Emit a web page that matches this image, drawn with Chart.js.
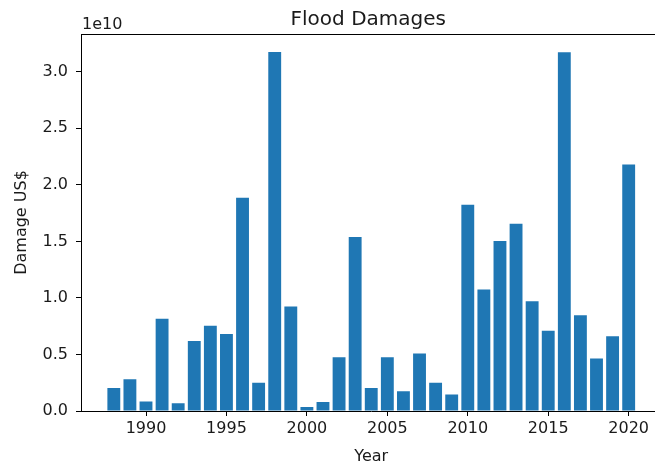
<!DOCTYPE html>
<html>
<head>
<meta charset="utf-8">
<title>Flood Damages</title>
<script src="https://cdn.jsdelivr.net/npm/chart.js@4/dist/chart.umd.min.js"></script>
<style>
  html, body { margin: 0; padding: 0; background: #fff; overflow: hidden; }
  #wrap { width: 655px; height: 468px; overflow: hidden; }
  canvas { display: block; }
</style>
</head>
<body>
<div id="wrap"><canvas id="chart" width="664" height="468"></canvas></div>
<script>
// Annual flood damages (US$)
const years = [
  1988, 1989, 1990, 1991, 1992, 1993, 1994, 1995, 1996, 1997, 1998,
  1999, 2000, 2001, 2002, 2003, 2004, 2005, 2006, 2007, 2008, 2009,
  2010, 2011, 2012, 2013, 2014, 2015, 2016, 2017, 2018, 2019, 2020
];
const damages = [
  2.03e9, 2.80e9, 0.83e9, 8.15e9, 0.68e9, 6.18e9, 7.54e9, 6.80e9, 18.86e9, 2.50e9, 31.75e9,
  9.24e9, 0.35e9, 0.80e9, 4.76e9, 15.39e9, 2.03e9, 4.76e9, 1.74e9, 5.09e9, 2.50e9, 1.45e9,
  18.24e9, 10.74e9, 15.03e9, 16.56e9, 9.71e9, 7.09e9, 31.72e9, 8.47e9, 4.65e9, 6.62e9, 21.79e9
];
const xTicks = [1990, 1995, 2000, 2005, 2010, 2015, 2020];
const yTicks = [0, 0.5e10, 1.0e10, 1.5e10, 2.0e10, 2.5e10, 3.0e10];
const exponentLabel = '1e10';
const chartTitle = 'Flood Damages';
const xLabel = 'Year';
const yLabel = 'Damage US$';

const FONT = 'DejaVu Sans';
const TEXT = '#1a1a1a';
const BAR_WIDTH = 0.8;

// Axis limits with a 5% margin around the data, bars centred on each year
const xLo = Math.min(...years) - BAR_WIDTH / 2;
const xHi = Math.max(...years) + BAR_WIDTH / 2;
const xPad = (xHi - xLo) * 0.05;
const yMax = Math.max(...damages) * 1.05;

// Title, exponent label and the top frame line
// (the right-hand frame edge falls outside the visible page)
const framePlugin = {
  id: 'frame',
  afterDraw(chart) {
    const { ctx, chartArea: a } = chart;
    ctx.save();
    ctx.strokeStyle = '#000';
    ctx.lineWidth = 1;
    ctx.beginPath();
    ctx.moveTo(Math.round(a.left) + 0.5, Math.round(a.top) + 0.5);
    ctx.lineTo(Math.round(a.right) + 0.5, Math.round(a.top) + 0.5);
    ctx.stroke();

    ctx.fillStyle = TEXT;
    ctx.font = '20px "' + FONT + '"';
    ctx.textAlign = 'center';
    ctx.textBaseline = 'alphabetic';
    ctx.fillText(chartTitle, (a.left + a.right) / 2 - 3, a.top - 9);

    ctx.font = '16px "' + FONT + '"';
    ctx.textAlign = 'left';
    ctx.fillText(exponentLabel, a.left + 1, a.top - 5);
    ctx.restore();
  }
};

const tickMarks = { offset: false, drawOnChartArea: false, drawTicks: true, tickLength: 5, tickColor: '#000', tickWidth: 1 };

new Chart(document.getElementById('chart'), {
  type: 'bar',
  data: {
    datasets: [{
      data: years.map((yr, i) => ({ x: yr, y: damages[i] })),
      backgroundColor: '#1f77b4',
      borderWidth: 0,
      barPercentage: BAR_WIDTH,
      categoryPercentage: 1.0
    }]
  },
  options: {
    responsive: false,
    animation: false,
    devicePixelRatio: 1,
    layout: { padding: { top: 34, right: 2.5, bottom: 0, left: 0 } },
    plugins: {
      legend: { display: false },
      tooltip: { enabled: false },
      title: { display: false }
    },
    scales: {
      x: {
        type: 'linear',
        offset: false,
        min: xLo - xPad,
        max: xHi + xPad,
        afterBuildTicks(scale) { scale.ticks = xTicks.map(v => ({ value: v })); },
        afterFit(scale) { scale.height = 57; },
        grid: tickMarks,
        border: { display: true, color: '#000', width: 1 },
        ticks: {
          maxRotation: 0,
          autoSkip: false,
          padding: 3,
          color: TEXT,
          font: { family: FONT, size: 16 },
          callback: (v) => String(v)
        },
        title: {
          display: true,
          text: xLabel,
          color: TEXT,
          font: { family: FONT, size: 16 },
          padding: { top: 0, bottom: 2 }
        }
      },
      y: {
        min: 0,
        max: yMax,
        afterBuildTicks(scale) { scale.ticks = yTicks.map(v => ({ value: v })); },
        afterFit(scale) { scale.width = 81; },
        grid: tickMarks,
        border: { display: true, color: '#000', width: 1 },
        ticks: {
          autoSkip: false,
          padding: 8,
          color: TEXT,
          font: { family: FONT, size: 16 },
          callback: (v) => (v / 1e10).toFixed(1)
        },
        title: {
          display: true,
          text: yLabel,
          color: TEXT,
          font: { family: FONT, size: 16 },
          padding: { top: 12, bottom: 0 }
        }
      }
    }
  },
  plugins: [framePlugin]
});
</script>
</body>
</html>
